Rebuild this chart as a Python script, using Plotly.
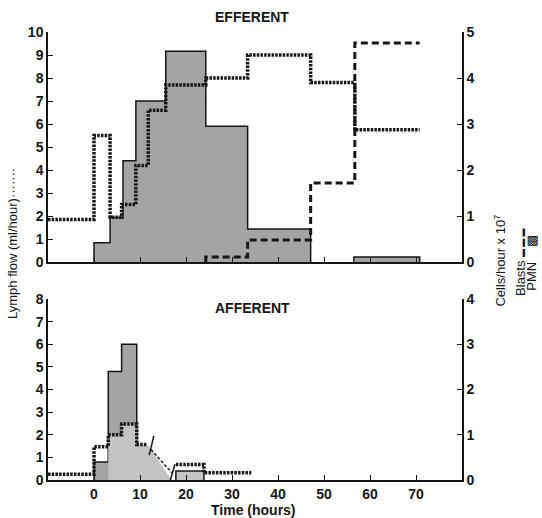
import plotly.graph_objects as go

# ---------------- DATA ----------------
# Efferent lymph flow (ml/hour), step edges in hours
eff_lymph_edges = [-10, 0, 3.5, 6.0, 9.1, 11.8, 15.6, 24.3, 33.4, 47.1, 56.7, 70.8]
eff_lymph = [1.85, 5.5, 1.95, 2.5, 4.2, 6.6, 7.7, 8.0, 9.0, 7.8, 5.75]

# Efferent PMN (cells/hour x 10^7)
eff_pmn_edges = [0, 3.5, 6.3, 9.1, 15.6, 24.3, 33.4, 47.1]
eff_pmn = [0.42, 0.97, 2.2, 3.5, 4.58, 2.95, 0.72]
eff_pmn2_edges = [56.5, 70.8]
eff_pmn2 = [0.11]

# Efferent blasts (cells/hour x 10^7)
eff_blast_edges = [24.3, 33.4, 47.1, 56.7, 70.8]
eff_blast = [0.11, 0.48, 1.72, 4.76]

# Afferent lymph flow (ml/hour)
aff_lymph_edges = [-10, 0, 3.1, 6.0, 9.3, 11.6]
aff_lymph = [0.25, 1.47, 2.0, 2.47, 1.57]
aff_lymph_gap_t = [12.4, 17.0]
aff_lymph_gap = [1.35, 0.3]
aff_lymph2_edges = [17.8, 23.9, 34.2]
aff_lymph2 = [0.68, 0.32]

# Afferent PMN (cells/hour x 10^7)
aff_pmn_edges = [0, 3.1, 6.0, 9.3]
aff_pmn = [0.4, 2.4, 3.0]
aff_pmn2_edges = [17.8, 23.9]
aff_pmn2 = [0.2]
# lighter shaded area beneath the afferent lymph curve (cells/hour x 10^7)
aff_light_t = [3.1, 3.1, 6.0, 6.0, 9.3, 9.3, 11.6, 12.4, 16.8]
aff_light = [0, 1.0, 1.0, 1.23, 1.23, 0.78, 0.78, 0.68, 0]

x_ticks = [0, 10, 20, 30, 40, 50, 60, 70]

INK = "#161616"
FONT = "Liberation Sans"
FILL = "#a4a4a4"
FILL_LIGHT = "#c4c4c4"


def line_steps(edges, vals):
    xs, ys = [], []
    for i, v in enumerate(vals):
        xs += [edges[i], edges[i + 1]]
        ys += [v, v]
    return xs, ys


def box_steps(edges, vals):
    xs, ys = [edges[0]], [0]
    for i, v in enumerate(vals):
        xs += [edges[i], edges[i + 1]]
        ys += [v, v]
    xs.append(edges[-1])
    ys.append(0)
    return xs, ys


fig = go.Figure()


def add_fill(xs, ys, xa, ya, color=FILL, lw=1.5):
    fig.add_trace(go.Scatter(x=xs, y=ys, xaxis=xa, yaxis=ya, mode="lines",
                             line=dict(color=INK, width=lw), fill="toself",
                             fillcolor=color, hoverinfo="skip", showlegend=False))


LYMPH_LINE = dict(color=INK, width=3.5, dash="2.5px,1.2px")

# ---- Efferent panel: cells on y (right axis), lymph on y2 (left axis, drawn on top) ----
x, y = box_steps(eff_pmn_edges, eff_pmn)
add_fill(x, y, "x", "y")
x, y = box_steps(eff_pmn2_edges, eff_pmn2)
add_fill(x, y, "x", "y")

bx, by = line_steps(eff_blast_edges, eff_blast)
bx = [eff_blast_edges[0]] + bx
by = [0] + by
fig.add_trace(go.Scatter(x=bx, y=by, xaxis="x", yaxis="y", mode="lines",
                         line=dict(color=INK, width=3, dash="7px,4px"),
                         showlegend=False, hoverinfo="skip"))

lx, ly = line_steps(eff_lymph_edges, eff_lymph)
fig.add_trace(go.Scatter(x=lx, y=ly, xaxis="x", yaxis="y2", mode="lines",
                         line=LYMPH_LINE, showlegend=False, hoverinfo="skip"))

# ---- Afferent panel: cells on y3 (right), lymph on y4 (left) ----
x, y = box_steps(aff_pmn_edges, aff_pmn)
add_fill(x, y, "x2", "y3")
add_fill(aff_light_t, aff_light, "x2", "y3", color=FILL_LIGHT, lw=0)
x, y = box_steps(aff_pmn2_edges, aff_pmn2)
add_fill(x, y, "x2", "y3", color=FILL_LIGHT)

lx, ly = line_steps(aff_lymph_edges, aff_lymph)
fig.add_trace(go.Scatter(x=lx, y=ly, xaxis="x2", yaxis="y4", mode="lines",
                         line=LYMPH_LINE, showlegend=False, hoverinfo="skip"))
fig.add_trace(go.Scatter(x=aff_lymph_gap_t, y=aff_lymph_gap, xaxis="x2", yaxis="y4",
                         mode="lines", line=dict(color=INK, width=1.5, dash="3px,2px"),
                         showlegend=False, hoverinfo="skip"))
lx, ly = line_steps(aff_lymph2_edges, aff_lymph2)
fig.add_trace(go.Scatter(x=lx, y=ly, xaxis="x2", yaxis="y4", mode="lines",
                         line=LYMPH_LINE, showlegend=False, hoverinfo="skip"))
# break marks
fig.add_trace(go.Scatter(x=[12.0, 13.0, None, 16.6, 17.6], y=[1.1, 1.95, None, 0.0, 0.7],
                         xaxis="x2", yaxis="y4", mode="lines",
                         line=dict(color=INK, width=1.5), showlegend=False, hoverinfo="skip"))

tickfont = dict(family=FONT, size=14, color=INK, weight="bold")
common_x = dict(range=[-10, 80], showline=True, linecolor=INK, linewidth=1.5,
                ticks="inside", ticklen=5, tickcolor=INK, tickwidth=1.2,
                tickvals=x_ticks, showgrid=False, zeroline=False, tickfont=tickfont)
common_y = dict(showline=True, linecolor=INK, linewidth=1.5, ticks="inside",
                ticklen=5, tickcolor=INK, tickwidth=1.2, showgrid=False,
                zeroline=False, tickfont=tickfont, dtick=1)

top_dom = [0.4866, 1.0]
bot_dom = [0.0, 0.404]


def ann(text, x, y, size=14, angle=0, bold=True):
    return dict(text=text, x=x, y=y, xref="paper", yref="paper", xanchor="center",
                yanchor="middle", textangle=angle, showarrow=False,
                font=dict(size=size, family=FONT, color=INK,
                          weight="bold" if bold else "normal"))


fig.update_layout(
    width=542, height=518,
    margin=dict(l=48, r=80, t=32, b=38),
    paper_bgcolor="white", plot_bgcolor="white",
    font=dict(family=FONT, color=INK),
    xaxis=dict(common_x, anchor="y", showticklabels=False),
    yaxis=dict(common_y, range=[0, 5], domain=top_dom, anchor="x", side="right"),
    yaxis2=dict(common_y, range=[0, 10], anchor="x", overlaying="y", side="left"),
    xaxis2=dict(common_x, anchor="y3"),
    yaxis3=dict(common_y, range=[0, 4], domain=bot_dom, anchor="x2", side="right"),
    yaxis4=dict(common_y, range=[0, 8], anchor="x2", overlaying="y3", side="left"),
    annotations=[
        ann("EFFERENT", 0.493, 1.033),
        ann("AFFERENT", 0.493, 0.384),
        ann("Time (hours)", 0.496, -0.066),
        ann("Lymph flow (ml/hour)·······", -0.087, 0.529, size=13, angle=-90, bold=False),
        ann("Cells/hour x 10<sup>7</sup>", 1.092, 0.49, size=13, angle=-90, bold=False),
        ann("Blasts <span style='font-size:8px'>▬ ▬ ▬</span>", 1.143, 0.485, size=13, angle=-90, bold=False),
        ann("PMN    ▩", 1.169, 0.485, size=13, angle=-90, bold=False),
    ],
)

fig.write_html("out.html")
